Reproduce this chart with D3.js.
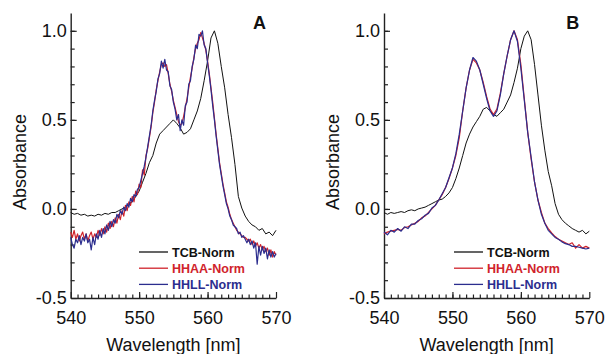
<!DOCTYPE html>
<html>
<head>
<meta charset="utf-8">
<script src="https://cdn.jsdelivr.net/npm/d3@7"></script>
<style>
  body { margin: 0; background: #fff; }
  svg { display: block; font-family: "Liberation Sans", Arial, sans-serif; }
</style>
</head>
<body>
<svg id="chart" width="606" height="354"></svg>
<script>
// sampling grids (nm)
const waveFine = d3.range(540, 570.0001, 0.25);
const waveCoarse = d3.range(540, 570.0001, 0.5);

const seriesNames = ["TCB-Norm", "HHAA-Norm", "HHLL-Norm"];
const xTicks = [540, 550, 560, 570];
const yTicks = [-0.5, 0.0, 0.5, 1.0];

// panel A, 0.5 nm
const tcbA = [
  -0.02, -0.03, -0.025, -0.035, -0.03, -0.04, -0.035, -0.04, -0.03, -0.035,
  -0.025, -0.03, -0.02, -0.02, -0.01, 0.0, 0.01, 0.03, 0.04, 0.07,
  0.10, 0.15, 0.20, 0.26, 0.30, 0.37, 0.42, 0.44, 0.46, 0.48,
  0.50, 0.48, 0.455, 0.42, 0.43, 0.45, 0.50, 0.55, 0.62, 0.72,
  0.83, 0.96, 1.0, 0.93, 0.80, 0.68, 0.53, 0.40, 0.25, 0.07,
  0.005, -0.04, -0.07, -0.09, -0.10, -0.12, -0.11, -0.14, -0.13, -0.15,
  -0.12
];

// panel A, 0.25 nm
const hhaaA = [
  -0.13, -0.16, -0.12, -0.17,
  -0.14, -0.18, -0.15, -0.13,
  -0.17, -0.14, -0.18, -0.15,
  -0.13, -0.17, -0.14, -0.16,
  -0.12, -0.15, -0.11, -0.14,
  -0.10, -0.13, -0.08, -0.11,
  -0.07, -0.10, -0.05, -0.08,
  -0.03, -0.06, -0.01, -0.04,
  0.02, -0.01, 0.04, 0.02,
  0.07, 0.04, 0.10, 0.08,
  0.14, 0.12, 0.22, 0.19,
  0.30, 0.34, 0.40, 0.46,
  0.54, 0.60, 0.67, 0.72,
  0.77, 0.81, 0.82, 0.80,
  0.81, 0.76, 0.70, 0.66,
  0.61, 0.57, 0.53, 0.49,
  0.47, 0.48, 0.52, 0.57,
  0.62, 0.68, 0.74, 0.79,
  0.85, 0.90, 0.93, 0.95,
  0.99, 0.96, 0.93, 0.89,
  0.83, 0.76, 0.68, 0.60,
  0.51, 0.42, 0.34, 0.26,
  0.20, 0.14, 0.09, 0.04,
  0.01, -0.03, -0.06, -0.08,
  -0.10, -0.12, -0.13, -0.14,
  -0.15, -0.16, -0.16, -0.17,
  -0.18, -0.17, -0.20, -0.18,
  -0.21, -0.19, -0.22, -0.20,
  -0.23, -0.21, -0.24, -0.22,
  -0.26, -0.23, -0.27, -0.24,
  -0.26
];

const hhllA = [
  -0.16, -0.20, -0.22, -0.17,
  -0.19, -0.15, -0.20, -0.16,
  -0.18, -0.14, -0.19, -0.17,
  -0.23, -0.16, -0.20, -0.14,
  -0.17, -0.12, -0.16, -0.11,
  -0.14, -0.09, -0.12, -0.07,
  -0.10, -0.06, -0.08, -0.03,
  -0.05, -0.01, -0.03, 0.01,
  -0.01, 0.03, 0.01, 0.06,
  0.04, 0.08, 0.07, 0.11,
  0.12, 0.16, 0.20, 0.24,
  0.29, 0.35, 0.41, 0.47,
  0.55, 0.61, 0.66, 0.73,
  0.76, 0.83, 0.79, 0.84,
  0.78, 0.77, 0.69, 0.67,
  0.60, 0.56, 0.50, 0.53,
  0.44, 0.50, 0.47, 0.58,
  0.60, 0.70, 0.72, 0.80,
  0.84, 0.92, 0.90, 0.98,
  0.97, 1.0, 0.92, 0.90,
  0.82, 0.75, 0.67, 0.58,
  0.50, 0.41, 0.33, 0.25,
  0.19, 0.13, 0.08, 0.03,
  0.0, -0.04, -0.06, -0.09,
  -0.10, -0.11, -0.14, -0.13,
  -0.16, -0.15, -0.17, -0.19,
  -0.17, -0.20, -0.18, -0.22,
  -0.19, -0.31, -0.21, -0.26,
  -0.21, -0.25, -0.22, -0.28,
  -0.23, -0.27, -0.24, -0.27,
  -0.25
];

// panel B, 0.5 nm
const tcbB = [
  -0.02, -0.03, -0.02, -0.025, -0.02, -0.015, -0.02, -0.01, -0.005, -0.01,
  0.0, 0.005, 0.01, 0.02, 0.03, 0.04, 0.05, 0.055, 0.07, 0.09,
  0.12, 0.17, 0.23, 0.30, 0.37, 0.42, 0.46, 0.49, 0.52, 0.56,
  0.57, 0.55, 0.53, 0.52, 0.54, 0.56, 0.60, 0.64, 0.71, 0.79,
  0.90, 0.97, 1.0, 0.95, 0.81, 0.64, 0.47, 0.33, 0.21, 0.13,
  0.03, -0.03, -0.06, -0.08, -0.095, -0.11, -0.12, -0.13, -0.12, -0.14,
  -0.125
];

const hhaaB = [
  -0.14, -0.13, -0.125, -0.12, -0.115, -0.12, -0.105, -0.10, -0.09, -0.08,
  -0.07, -0.05, -0.04, -0.02, 0.0, 0.02, 0.05, 0.08, 0.12, 0.17,
  0.23, 0.30, 0.40, 0.55, 0.68, 0.78, 0.84, 0.82, 0.78, 0.71,
  0.63, 0.56, 0.53, 0.56, 0.65, 0.76, 0.86, 0.95, 1.0, 0.95,
  0.81, 0.62, 0.43, 0.28, 0.15, 0.05, -0.02, -0.08, -0.11, -0.135,
  -0.155, -0.17, -0.18, -0.19, -0.20, -0.19, -0.22, -0.20, -0.22, -0.21,
  -0.22
];

const hhllB = [
  -0.13, -0.145, -0.12, -0.13, -0.11, -0.125, -0.10, -0.11, -0.085, -0.085,
  -0.065, -0.055, -0.035, -0.025, 0.005, 0.02, 0.05, 0.085, 0.12, 0.175,
  0.23, 0.31, 0.42, 0.55, 0.68, 0.78, 0.85, 0.83, 0.78, 0.70,
  0.62, 0.55, 0.52, 0.55, 0.64, 0.76, 0.86, 0.95, 1.0, 0.94,
  0.79, 0.61, 0.43, 0.29, 0.15, 0.05, -0.03, -0.08, -0.12, -0.14,
  -0.16, -0.17, -0.185, -0.195, -0.20, -0.21, -0.21, -0.215, -0.22, -0.225,
  -0.22
];

const colors = ["#111111", "#d0232b", "#2b2d8e"];
const widths = [1, 1.2, 1.2];

const panels = [
  { label: "A", left: 70.7, right: 276, legendX: 139,
    series: [[waveCoarse, tcbA], [waveFine, hhaaA], [waveFine, hhllA]] },
  { label: "B", left: 384, right: 589.3, legendX: 454,
    series: [[waveCoarse, tcbB], [waveCoarse, hhaaB], [waveCoarse, hhllB]] }
];

const plotTop = 13;
const plotBottom = 298;
const svg = d3.select("#chart");

panels.forEach((panel) => {
  const x = d3.scaleLinear().domain([540, 570]).range([panel.left, panel.right]);
  const y = d3.scaleLinear().domain([-0.5, 1.1]).range([plotBottom, plotTop]);
  const g = svg.append("g");

  // minor ticks
  g.append("g")
    .attr("transform", `translate(${panel.left},0)`)
    .call(d3.axisLeft(y).tickValues(d3.range(-0.4, 1.05, 0.1)).tickSize(-4).tickFormat(""))
    .call((a) => a.select(".domain").remove())
    .call((a) => a.selectAll("line").attr("stroke", "#222").attr("stroke-width", 1.2));

  g.append("g")
    .attr("transform", `translate(0,${plotBottom})`)
    .call(d3.axisBottom(x).tickValues(d3.range(541, 570, 1)).tickSize(-3.5).tickFormat(""))
    .call((a) => a.select(".domain").remove())
    .call((a) => a.selectAll("line").attr("stroke", "#222").attr("stroke-width", 1.2));

  // major axes
  g.append("g")
    .attr("transform", `translate(${panel.left},0)`)
    .call(d3.axisLeft(y).tickValues(yTicks).tickSize(-6).tickSizeOuter(0).tickPadding(4)
      .tickFormat((d) => d.toFixed(1)))
    .call((a) => a.select(".domain").attr("stroke", "#222").attr("stroke-width", 1.4))
    .call((a) => a.selectAll("line").attr("stroke", "#222").attr("stroke-width", 1.2))
    .call((a) => a.selectAll("text").attr("font-size", 18).attr("fill", "#111")
      .attr("font-family", "Liberation Sans, Arial, sans-serif"));

  g.append("g")
    .attr("transform", `translate(0,${plotBottom})`)
    .call(d3.axisBottom(x).tickValues(xTicks).tickSize(-6).tickSizeOuter(0).tickPadding(13))
    .call((a) => a.select(".domain").attr("stroke", "#222").attr("stroke-width", 1.4))
    .call((a) => a.selectAll("line").attr("stroke", "#222").attr("stroke-width", 1.2))
    .call((a) => a.selectAll("text").attr("font-size", 18).attr("fill", "#111")
      .attr("font-family", "Liberation Sans, Arial, sans-serif"));

  // titles
  g.append("text")
    .attr("transform", `translate(${panel.left - 45},162) rotate(-90)`)
    .attr("text-anchor", "middle")
    .attr("font-size", 18)
    .attr("fill", "#111")
    .text("Absorbance");

  g.append("text")
    .attr("x", (panel.left + panel.right) / 2)
    .attr("y", 351)
    .attr("text-anchor", "middle")
    .attr("font-size", 18)
    .attr("fill", "#111")
    .text("Wavelength [nm]");

  g.append("text")
    .attr("x", panel.right - 16.5)
    .attr("y", 28.5)
    .attr("text-anchor", "middle")
    .attr("font-size", 18)
    .attr("font-weight", 700)
    .attr("fill", "#111")
    .text(panel.label);

  // curves
  const line = d3.line()
    .x((d) => x(d[0]))
    .y((d) => y(d[1]));

  panel.series.forEach(([waves, values], i) => {
    g.append("path")
      .datum(d3.zip(waves, values))
      .attr("fill", "none")
      .attr("stroke", colors[i])
      .attr("stroke-width", widths[i])
      .attr("stroke-linejoin", "round")
      .attr("d", line);
  });

  // legend
  const legend = g.append("g").attr("transform", `translate(${panel.legendX},252)`);
  seriesNames.forEach((name, i) => {
    legend.append("line")
      .attr("x1", 0).attr("x2", 29)
      .attr("y1", i * 16.2).attr("y2", i * 16.2)
      .attr("stroke", colors[i])
      .attr("stroke-width", 1.3);
    legend.append("text")
      .attr("x", 33)
      .attr("y", i * 16.2)
      .attr("dy", "0.36em")
      .attr("font-size", 12.5)
      .attr("font-weight", 700)
      .attr("fill", i === 0 ? "#111" : colors[i])
      .text(name);
  });
});
</script>
</body>
</html>
